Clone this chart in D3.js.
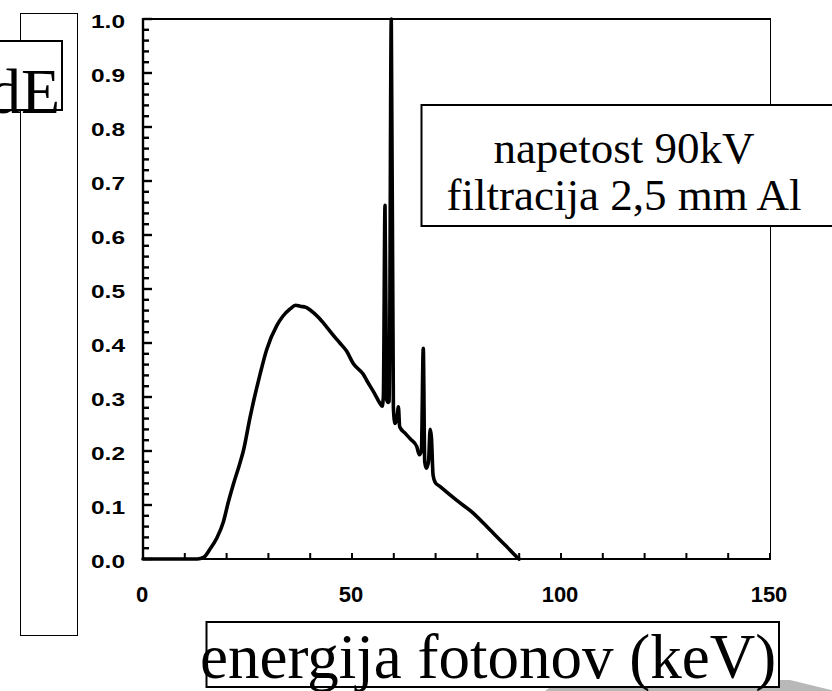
<!DOCTYPE html>
<html>
<head>
<meta charset="utf-8">
<script src="https://cdn.jsdelivr.net/npm/d3@7/dist/d3.min.js"></script>
<style>
  html, body { margin: 0; padding: 0; background: #fff; }
  svg { display: block; }
</style>
</head>
<body>
<svg id="chart" width="832" height="691" xmlns="http://www.w3.org/2000/svg"></svg>
<script>
// ---- Data ----
const energy = [0, 5, 10, 13, 14.5, 16.0, 17.6, 19.2, 20.4, 21.6, 23.2, 24.0, 25.6, 28.0, 29.6,
  32.0, 33.5, 35.2, 36.5, 37.6, 39.0, 40.0, 42.0, 43.9, 46.0, 47.1, 48.7, 50.3, 52.7, 53.5, 55.5,
  56.7, 57.2, 57.5, 57.9, 58.3, 58.6, 58.9, 59.4, 59.9, 60.3, 60.8, 61.1, 61.4, 62.7, 64.0, 65.5,
  66.1, 66.6, 67.05, 67.4, 67.8, 68.3, 68.7, 69.0, 69.4, 69.9, 71.1, 75.0, 79.0, 83.0, 87.0, 89.4, 90.0];
const intensity = [0, 0, 0, 0, 0.003, 0.018, 0.038, 0.068, 0.105, 0.138, 0.178, 0.200, 0.262, 0.342, 0.388,
  0.432, 0.450, 0.463, 0.470, 0.468, 0.466, 0.461, 0.447, 0.430, 0.410, 0.400, 0.385, 0.362, 0.342, 0.331, 0.305,
  0.288, 0.283, 0.300, 0.655, 0.295, 0.290, 0.292, 1.0, 0.280, 0.251, 0.262, 0.282, 0.245, 0.233, 0.222, 0.208,
  0.193, 0.200, 0.390, 0.180, 0.168, 0.180, 0.240, 0.225, 0.155, 0.142, 0.134, 0.109, 0.085, 0.054, 0.023, 0.004, 0];

const xTickLabels = [0, 50, 100, 150];
const xMinorTicks = [0, 10, 20, 30, 40, 50, 60, 70, 80, 90, 100, 110, 120, 130, 140, 150];
const yTickLabels = [0, 0.1, 0.2, 0.3, 0.4, 0.5, 0.6, 0.7, 0.8, 0.9, 1.0];
const yMinorTicks = [0.02, 0.04, 0.06, 0.08, 0.12, 0.14, 0.16, 0.18, 0.22, 0.24, 0.26, 0.28,
  0.32, 0.34, 0.36, 0.38, 0.42, 0.44, 0.46, 0.48, 0.52, 0.54, 0.56, 0.58, 0.62, 0.64, 0.66, 0.68,
  0.72, 0.74, 0.76, 0.78, 0.82, 0.84, 0.86, 0.88, 0.92, 0.94, 0.96, 0.98];

const annotationLines = ["napetost 90kV", "filtracija 2,5 mm Al"];
const xTitle = "energija fotonov (keV)";
const yTitleFragment = "dE";

// ---- Setup ----
const svg = d3.select("#chart");
const serif = "'Liberation Serif', 'Times New Roman', serif";
const sans = "'Liberation Sans', Arial, Helvetica, sans-serif";

const x = d3.scaleLinear().domain([0, 150]).range([143, 770]);
const y = d3.scaleLinear().domain([0, 1]).range([559, 19]);

// gray shadow at bottom right
svg.append("polygon")
  .attr("points", "545,691 560,680 790,680 835,691")
  .attr("fill", "#b8b8b8");

// left tall box
svg.append("rect")
  .attr("x", 20.5).attr("y", 13.5).attr("width", 57).attr("height", 622)
  .attr("fill", "none").attr("stroke", "#000").attr("stroke-width", 1);

// "dE" box (partly off-canvas, as in the reference)
svg.append("rect")
  .attr("x", -10).attr("y", 41).attr("width", 72).attr("height", 69)
  .attr("fill", "#fff").attr("stroke", "#000").attr("stroke-width", 2);
svg.append("text")
  .attr("x", 60).attr("y", 113)
  .attr("text-anchor", "end")
  .attr("font-family", serif).attr("font-size", 64)
  .text(yTitleFragment);

// ---- Ticks (inward) ----
const tg = svg.append("g").attr("fill", "#000");
tg.selectAll("rect.ym").data(yMinorTicks).join("rect").attr("class", "ym")
  .attr("x", 143).attr("y", d => y(d) - 1.2).attr("width", 6).attr("height", 2.4);
tg.selectAll("rect.yM").data(yTickLabels).join("rect").attr("class", "yM")
  .attr("x", 143).attr("y", d => y(d) - 1.2).attr("width", 9).attr("height", 2.4);
tg.selectAll("rect.xm").data(xMinorTicks).join("rect").attr("class", "xm")
  .attr("x", d => x(d) - 1).attr("y", 553).attr("width", 2).attr("height", 6);

// Y labels
svg.append("g").selectAll("text")
  .data(yTickLabels)
  .join("text")
  .attr("x", 125).attr("y", d => y(d) + 9)
  .attr("text-anchor", "end")
  .attr("font-family", sans).attr("font-weight", "bold").attr("font-size", 18)
  .attr("fill", "#000")
  .attr("textLength", 34).attr("lengthAdjust", "spacingAndGlyphs")
  .text(d => d3.format(".1f")(d));

// X labels
svg.append("g").selectAll("text")
  .data(xTickLabels)
  .join("text")
  .attr("x", d => x(d) - 1).attr("y", 602)
  .attr("text-anchor", "middle")
  .attr("font-family", sans).attr("font-weight", "bold").attr("font-size", 22)
  .attr("fill", "#000")
  .text(d => d3.format("d")(d));

// Frame
svg.append("line").attr("x1", 143).attr("x2", 143).attr("y1", 18).attr("y2", 560)
  .attr("stroke", "#000").attr("stroke-width", 2.4);
svg.append("line").attr("x1", 142).attr("x2", 771).attr("y1", 559).attr("y2", 559)
  .attr("stroke", "#000").attr("stroke-width", 1.8);
svg.append("line").attr("x1", 142).attr("x2", 771).attr("y1", 19).attr("y2", 19)
  .attr("stroke", "#000").attr("stroke-width", 2.2);
svg.append("line").attr("x1", 770.5).attr("x2", 770.5).attr("y1", 19).attr("y2", 559)
  .attr("stroke", "#000").attr("stroke-width", 1);

// ---- Spectrum line ----
const pts = energy.map((e, i) => [e, intensity[i]]);
svg.append("path")
  .datum(pts)
  .attr("fill", "none")
  .attr("stroke", "#000")
  .attr("stroke-width", 3.6)
  .attr("stroke-linejoin", "round")
  .attr("stroke-linecap", "round")
  .attr("d", d3.line().curve(d3.curveMonotoneX).x(d => x(d[0])).y(d => y(d[1])));

// ---- Annotation box ----
svg.append("rect")
  .attr("x", 421.5).attr("y", 105).attr("width", 420).attr("height", 121)
  .attr("fill", "#fff").attr("stroke", "#000").attr("stroke-width", 2);
svg.append("g").selectAll("text")
  .data(annotationLines)
  .join("text")
  .attr("x", 624).attr("y", (d, i) => 163 + i * 47)
  .attr("text-anchor", "middle")
  .attr("font-family", serif).attr("font-size", 45)
  .attr("fill", "#000")
  .text(d => d);

// ---- X title box ----
svg.append("rect")
  .attr("x", 206.5).attr("y", 622).attr("width", 572.5).attr("height", 65)
  .attr("fill", "#fff").attr("stroke", "#000").attr("stroke-width", 2);
svg.append("text")
  .attr("x", 200).attr("y", 678)
  .attr("font-family", serif).attr("font-size", 63)
  .attr("fill", "#000")
  .text(xTitle);
</script>
</body>
</html>
